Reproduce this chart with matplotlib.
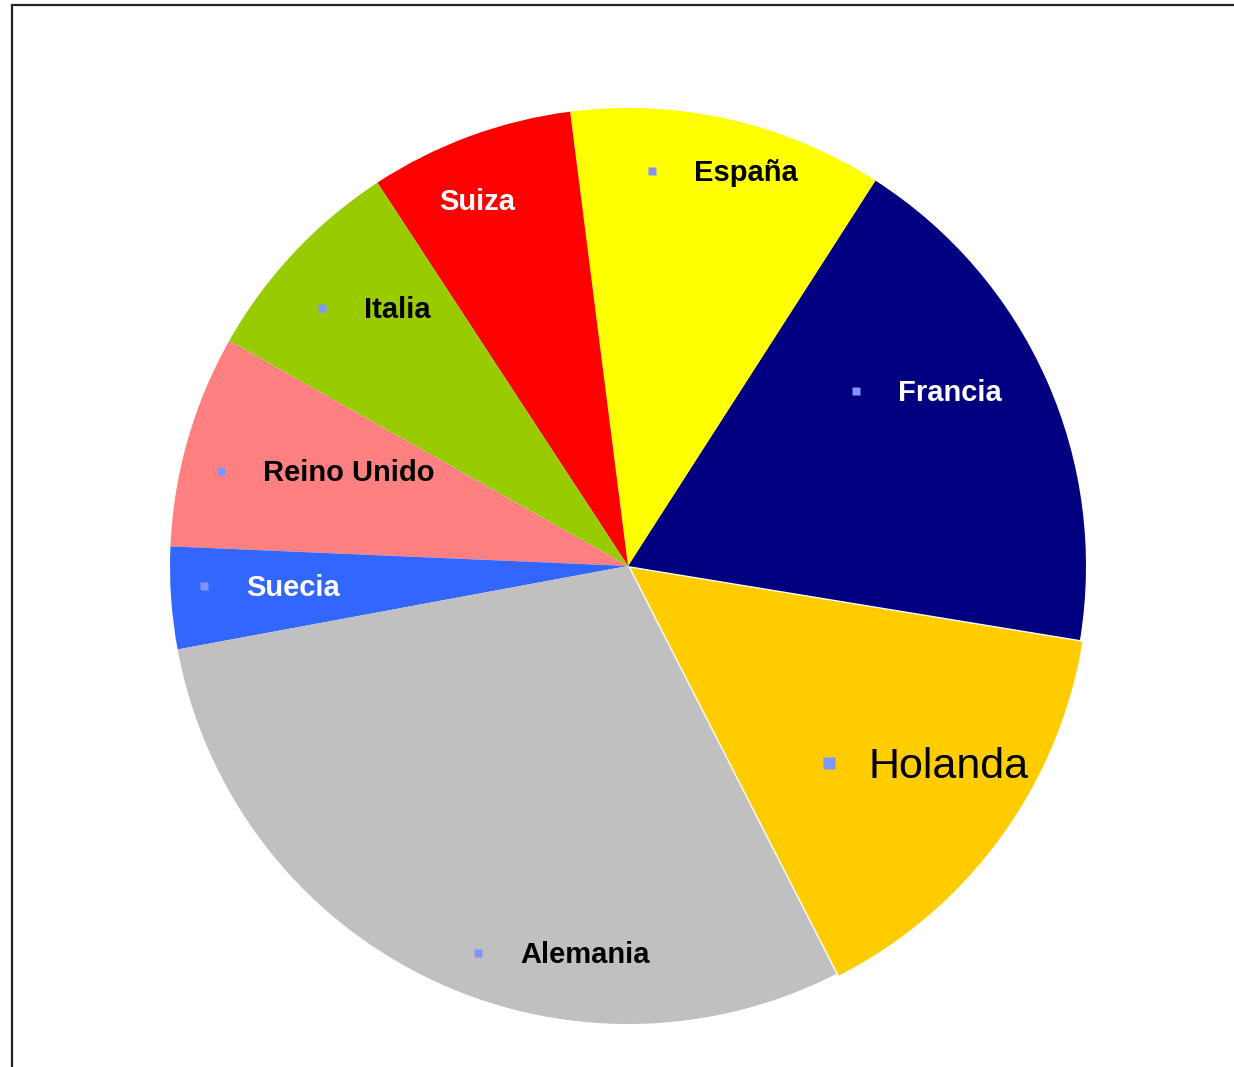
import matplotlib.pyplot as plt
from matplotlib.patches import Rectangle

plt.rcParams['font.family'] = ['Liberation Sans', 'DejaVu Sans']

# data (share of total)
paises = ['Francia', 'España', 'Suiza', 'Italia', 'Reino Unido', 'Suecia', 'Alemania', 'Holanda']
valores = [18.5, 11.1, 7.2, 7.6, 7.5, 3.6, 29.6, 14.9]
colores = ['#000080', '#FFFF00', '#FF0000', '#99CC00', '#FF8080', '#3366FF', '#C0C0C0', '#FFCC00']
explode = [0, 0, 0, 0, 0, 0, 0, 3]  # in pixels (axes are in pixel units)

# label layout in pixels (text x, caps centre y, show marker, text colour, bold, size)
etiquetas = {
    'Francia':     (898, 391, True, 'white', True, 21),
    'España':      (694, 171, True, 'black', True, 21),
    'Suiza':       (439, 200, False, 'white', True, 21),
    'Italia':      (364, 308, True, 'black', True, 21),
    'Reino Unido': (263, 471, True, 'black', True, 21),
    'Suecia':      (246, 586, True, 'white', True, 21),
    'Alemania':    (520, 953, True, 'black', True, 21),
    'Holanda':     (868, 763, True, 'black', False, 31),
}

W, H = 1234, 1067
fig = plt.figure(figsize=(W / 100, H / 100), dpi=100)
ax = fig.add_axes([0, 0, 1, 1])

cx, cy, r = 628, H - 566, 458
ax.pie(valores, colors=colores, explode=explode, startangle=-9.3, counterclock=True,
       center=(cx, cy), radius=r, frame=True,
       wedgeprops=dict(linewidth=0))
ax.set_xlim(0, W)
ax.set_ylim(0, H)
ax.axis('off')

for p in paises:
    tx, ty, marca, col, negrita, fs = etiquetas[p]
    capc = fs * 100 / 72 * 0.716 / 2
    ax.text(tx, H - ty - capc, p, ha='left', va='baseline', color=col,
            fontsize=fs, fontweight='bold' if negrita else 'normal')
    if marca:
        grande = not negrita
        ax.plot([tx - 39 if grande else tx - 42], [H - ty], marker='s',
                ms=9 if grande else 6, color='#8095FF', mec='none')

fig.add_artist(Rectangle((12 / W, -0.1), 1.2, 1.1 - 5 / H, transform=fig.transFigure,
                         fill=False, edgecolor='#222222', linewidth=1.6))

fig.savefig('out.png', dpi=100)
